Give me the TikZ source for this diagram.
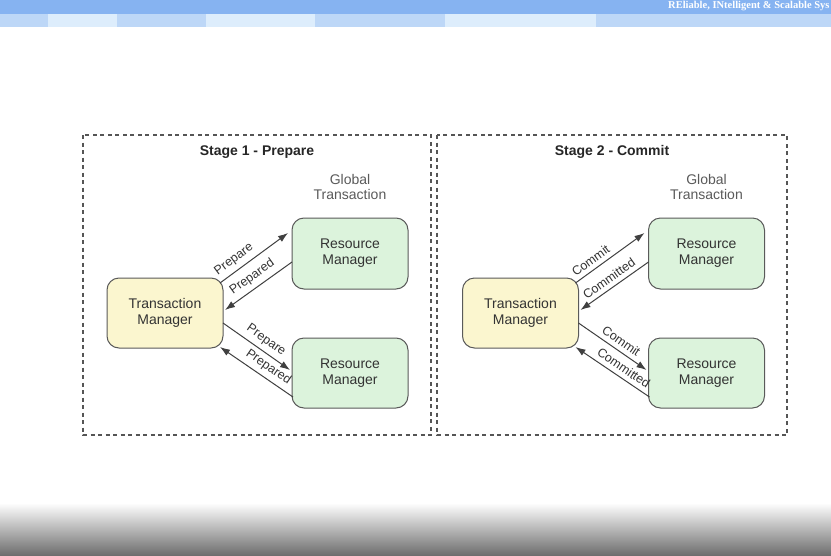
\documentclass[tikz,border=0pt]{standalone}
\usepackage{fontspec}
\setmainfont{Liberation Sans}
\newfontfamily\hdrfont{Liberation Serif}
\usetikzlibrary{arrows.meta,calc}
\definecolor{band}{HTML}{86B3F1}
\definecolor{tilemid}{HTML}{BDD7F7}
\definecolor{tilelight}{HTML}{DDEDFC}
\definecolor{tmfill}{HTML}{FBF6CF}
\definecolor{rmfill}{HTML}{DCF3DC}
\definecolor{boxline}{HTML}{5A5A5A}
\definecolor{txt}{HTML}{333333}
\definecolor{gtxt}{HTML}{5A5A5A}
\definecolor{arrcol}{HTML}{404040}
\definecolor{framecol}{HTML}{555555}
\definecolor{botgray}{HTML}{6E6E6E}
\newcommand\arrowset[5]{%
  \draw[arr] ($(#1.north east)+(-3,5)$) -- node[lbl,pos=0.3]{#4} ($(#2.north west)+(-4,15)$);
  \draw[arr] ($(#2.west)+(0,8.5)$) -- node[lbl,pos=0.5]{#5} ($(#1.east)+(2,-3)$);
  \draw[arr] ($(#1.east)+(0,10)$) -- node[lbl,pos=0.55]{#4} ($(#3.west)+(-2,-3)$);
  \draw[arr] ($(#3.south west)+(1,-11)$) -- node[lbl,pos=0.42]{#5} ($(#1.south east)+(-3,-1)$);
}
\begin{document}
\begin{tikzpicture}[x=1pt,y=-1pt,
  box/.style={draw=boxline, line width=1pt, rounded corners=12pt, minimum width=116pt,
    minimum height=70pt, align=center, text=txt, outer sep=0pt,
    font=\fontsize{14}{16}\selectfont},
  tmbox/.style={box, fill=tmfill},
  rmbox/.style={box, fill=rmfill},
  frame/.style={draw=framecol, line width=1.1pt, dash pattern=on 4pt off 3.5pt},
  title/.style={font=\bfseries\fontsize{14}{16}\selectfont, text=black!85},
  glob/.style={align=center, text=gtxt, font=\fontsize{14}{15}\selectfont},
  arr/.style={draw=arrcol, line width=1pt, -{Latex[length=10pt,width=7pt]}},
  lbl/.style={sloped, above=3.5pt, inner sep=1pt, text=txt, font=\fontsize{12.5}{13}\selectfont}
]
\useasboundingbox (0,0) rectangle (831,555);
\fill[white] (0,0) rectangle (831,555);
% header
\fill[band] (0,0) rectangle (831,13.5);
\fill[tilemid] (0,13.5) rectangle (48,27);
\fill[tilelight] (48,13.5) rectangle (117,27);
\fill[tilemid] (117,13.5) rectangle (206,27);
\fill[tilelight] (206,13.5) rectangle (315,27);
\fill[tilemid] (315,13.5) rectangle (445,27);
\fill[tilelight] (445,13.5) rectangle (596,27);
\fill[tilemid] (596,13.5) rectangle (831,27);
\node[anchor=west, text=white, inner sep=0pt, font=\hdrfont\bfseries\fontsize{10.5}{10.5}\selectfont] (hdr) at (668,6) {REliable, INtelligent \& Scalable Sys};
% bottom gradient
\shade[top color=white, bottom color=botgray] (0,503) rectangle (831,555);
% frames
\draw[frame] (83,135) rectangle (431,435);
\draw[frame] (437,135) rectangle (787,435);
% stage 1
\node[title] (t1) at (257,152) {Stage 1 - Prepare};
\node[glob] (g1) at (350,187) {Global\\Transaction};
\node[tmbox] (tm1) at (165,313) {Transaction\\Manager};
\node[rmbox, minimum height=71pt] (rm1) at (350,253.5) {Resource\\Manager};
\node[rmbox] (rm2) at (350,373) {Resource\\Manager};
\arrowset{tm1}{rm1}{rm2}{Prepare}{Prepared}
% stage 2
\node[title] (t2) at (612,152) {Stage 2 - Commit};
\node[glob] (g2) at (706.5,187) {Global\\Transaction};
\node[tmbox] (tm2) at (520.5,313) {Transaction\\Manager};
\node[rmbox, minimum height=71pt] (rm3) at (706.5,253.5) {Resource\\Manager};
\node[rmbox] (rm4) at (706.5,373) {Resource\\Manager};
\arrowset{tm2}{rm3}{rm4}{Commit}{Committed}
\end{tikzpicture}
\end{document}
